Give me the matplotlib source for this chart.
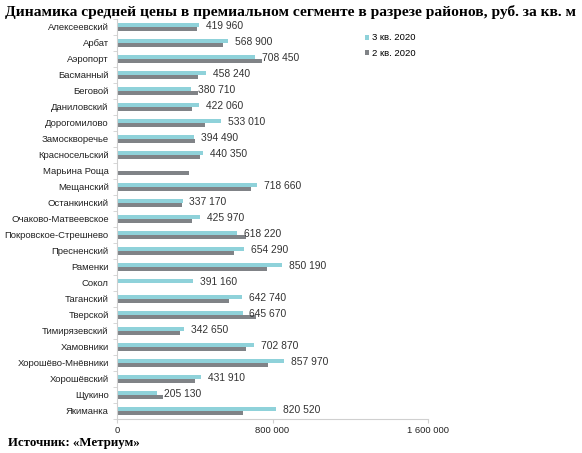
import numpy as np
import matplotlib
matplotlib.use('Agg')
import matplotlib.pyplot as plt

districts = ['Алексеевский', 'Арбат', 'Аэропорт', 'Басманный', 'Беговой',
             'Даниловский', 'Дорогомилово', 'Замоскворечье', 'Красносельский',
             'Марьина Роща', 'Мещанский', 'Останкинский', 'Очаково-Матвеевское',
             'Покровское-Стрешнево', 'Пресненский', 'Раменки', 'Сокол',
             'Таганский', 'Тверской', 'Тимирязевский', 'Хамовники',
             'Хорошёво-Мнёвники', 'Хорошёвский', 'Щукино', 'Якиманка']

# 3 кв. 2020 (labelled values); None = no data
q3_2020 = [419960, 568900, 708450, 458240, 380710, 422060, 533010, 394490,
           440350, None, 718660, 337170, 425970, 618220, 654290, 850190,
           391160, 642740, 645670, 342650, 702870, 857970, 431910, 205130,
           820520]

# 2 кв. 2020
q2_2020 = [412000, 546000, 744000, 415000, 415000, 385000, 454000, 402000,
           429000, 368000, 689000, 334000, 386000, 664000, 601000, 773000,
           None, 577000, 715000, 323000, 664000, 775000, 402000, 237000,
           650000]

xticks = [0, 800000, 1600000]
xtick_labels = ['0', '800 000', '1 600 000']

C_Q3 = '#8fd2da'
C_Q2 = '#808387'
AXIS_C = '#d0d0d0'
FS = 6.8

plt.rcParams['font.family'] = ['Liberation Sans', 'DejaVu Sans']

fig = plt.figure(figsize=(5.82, 4.53), dpi=100)
ax = fig.add_axes([117 / 582, 1 - 419 / 453, (428 - 117) / 582, (419 - 19) / 453])

y = np.arange(len(districts))
h = 0.27

q3 = np.array([np.nan if v is None else v for v in q3_2020], dtype=float)
q2 = np.array([np.nan if v is None else v for v in q2_2020], dtype=float)

ax.barh(y - h / 2, np.nan_to_num(q3), height=h, color=C_Q3, label='3 кв. 2020')
ax.barh(y + h / 2, np.nan_to_num(q2), height=h, color=C_Q2, label='2 кв. 2020')

for yi, v in zip(y, q3_2020):
    if v is None:
        continue
    txt = f'{v:,}'.replace(',', ' ')
    ax.annotate(txt, (v, yi - 0.05), xytext=(5, 0), textcoords='offset points',
                va='center', ha='left', fontsize=7.4, color='#333333')

ax.set_xlim(0, 1600000)
ax.set_ylim(len(districts) - 0.5, -0.5)
ax.set_yticks(y)
ax.set_yticklabels(districts, fontsize=FS, color='#222222')
ax.set_xticks(xticks)
ax.set_xticklabels(xtick_labels, fontsize=FS, color='#222222')

ax.set_yticks(np.arange(len(districts) + 1) - 0.5, minor=True)
ax.tick_params(axis='y', which='major', length=0, pad=6)
ax.tick_params(axis='y', which='minor', length=3, color=AXIS_C)
ax.tick_params(axis='x', length=3, color=AXIS_C, pad=2)

for s in ['top', 'right']:
    ax.spines[s].set_visible(False)
for s in ['left', 'bottom']:
    ax.spines[s].set_color(AXIS_C)
    ax.spines[s].set_linewidth(0.8)

leg = ax.legend(loc='upper left', bbox_to_anchor=(0.77, 0.985), frameon=False,
                fontsize=FS, handlelength=0.45, handleheight=0.45,
                handletextpad=0.3, labelspacing=0.65)

fig.text(0.008, 0.99, 'Динамика средней цены в премиальном сегменте в разрезе районов, руб. за кв. м',
         fontsize=11.15, fontweight='bold', family='Liberation Serif',
         va='top', ha='left')
fig.text(0.014, 0.008, 'Источник: «Метриум»', fontsize=9.3, fontweight='bold',
         family='Liberation Serif', va='bottom', ha='left')

fig.savefig('out.png', dpi=100)
